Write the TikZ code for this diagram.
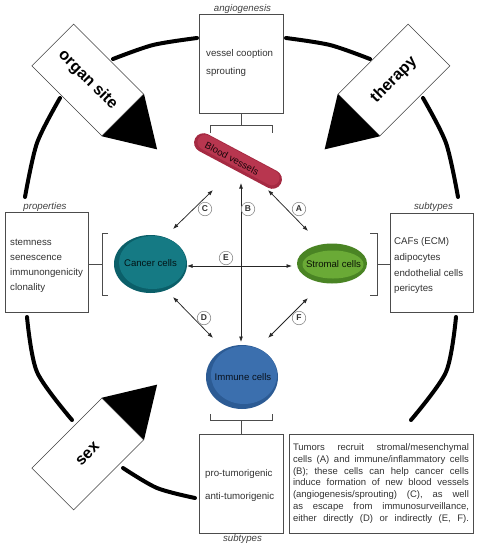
\documentclass[tikz,border=0pt]{standalone}
\usepackage{fontspec}
\setmainfont{Liberation Sans}
\usetikzlibrary{arrows.meta,calc,shapes.geometric}
\definecolor{txt}{HTML}{333333}
\definecolor{cancerO}{HTML}{0B5F69}
\definecolor{cancerI}{HTML}{157A84}
\definecolor{stromaO}{HTML}{4A8424}
\definecolor{stromaI}{HTML}{6AAA36}
\definecolor{immuneO}{HTML}{2C5B94}
\definecolor{immuneI}{HTML}{3B6FAE}
\definecolor{vesselO}{HTML}{A52A42}
\definecolor{vesselI}{HTML}{B8364F}
\begin{document}
\begin{tikzpicture}[x=1pt,y=-1pt,
  ring/.style={line width=4pt, line cap=round, black},
  bigarrow/.style={draw=black!75, line width=0.6pt, fill=white, minimum width=99pt, minimum height=59pt, inner sep=0pt, font=\fontsize{16}{16}\selectfont\bfseries, text=black},
  infobox/.style={draw=black!70, line width=0.6pt, fill=white, inner sep=0pt},
  boxtext/.style={anchor=base west, inner sep=0pt, font=\fontsize{9.7}{11}\selectfont, text=txt},
  toplabel/.style={anchor=base, inner sep=0pt, font=\fontsize{9.7}{11}\selectfont\itshape, text=black!75},
  bracket/.style={draw=black!70, line width=0.7pt},
  conn/.style={draw=black!85, line width=0.75pt, {Latex[length=5.5pt,width=4pt]}-{Latex[length=5.5pt,width=4pt]}},
  letter/.style={circle, draw=black!45, fill=white, line width=0.6pt, minimum size=13.5pt, inner sep=0pt, font=\fontsize{8.5}{8.5}\selectfont\bfseries, text=black!80},
  cellshape/.style={ellipse, inner sep=0pt},
  celltext/.style={inner sep=0pt, font=\fontsize{9.6}{10}\selectfont}
]
\useasboundingbox (0,0) rectangle (479,550);

% outer ring segments
\draw[ring] plot[smooth] coordinates {(113,59) (153,45) (197,38)};
\draw[ring] plot[smooth] coordinates {(286,38) (330,45) (370,59)};
\draw[ring] plot[smooth] coordinates {(423,98) (446,143) (458,197)};
\draw[ring] plot[smooth] coordinates {(456,317) (446,372) (411,420)};
\draw[ring] plot[smooth] coordinates {(123,468) (157,488) (195,498)};
\draw[ring] plot[smooth] coordinates {(27,317) (37,372) (72,420)};
\draw[ring] plot[smooth] coordinates {(60,98) (37,143) (25,197)};

% big factor arrows
\node[bigarrow, rotate=-45] (organ) at (87.75,80) {organ site};
\fill (organ.north east) -- ($(organ.center)!1.97!(organ.east)$) -- (organ.south east) -- cycle;
\node[bigarrow, rotate=45] (therapy) at (394,80) {therapy};
\fill (therapy.north west) -- ($(therapy.center)!1.97!(therapy.west)$) -- (therapy.south west) -- cycle;
\node[bigarrow, rotate=45] (sex) at (87.75,454) {sex};
\fill (sex.north east) -- ($(sex.center)!1.97!(sex.east)$) -- (sex.south east) -- cycle;

% info boxes
\node[infobox, minimum width=84pt, minimum height=99pt] (angio) at (241,63.5) {};
\node[toplabel] at (242.5,11) {angiogenesis};
\node[boxtext] at (206,56) {vessel cooption};
\node[boxtext] at (206,74) {sprouting};

\node[infobox, minimum width=83pt, minimum height=100pt] (props) at (46.5,262) {};
\node[toplabel] at (45,209.5) {properties};
\node[boxtext] at (10,245) {stemness};
\node[boxtext] at (10,260) {senescence};
\node[boxtext] at (10,275) {immunongenicity};
\node[boxtext] at (10,290) {clonality};

\node[infobox, minimum width=83pt, minimum height=99pt] (strsub) at (431.5,262.5) {};
\node[toplabel] at (433.5,209.5) {subtypes};
\node[boxtext] at (394,244) {CAFs (ECM)};
\node[boxtext] at (394,260) {adipocytes};
\node[boxtext] at (394,276) {endothelial cells};
\node[boxtext] at (394,291.5) {pericytes};

\node[infobox, minimum width=84pt, minimum height=99pt] (immsub) at (241,483.5) {};
\node[toplabel] at (242.5,541) {subtypes};
\node[boxtext] at (205,476) {pro-tumorigenic};
\node[boxtext] at (205,499) {anti-tumorigenic};

\node[infobox, minimum width=184pt, minimum height=99pt] (desc) at (381,483.5) {};
\node[inner sep=0pt, align=left, font=\fontsize{9.5}{11.8}\selectfont, text=txt] at (desc.center) {%
\makebox[176pt][s]{Tumors recruit stromal/mesenchymal}\\
\makebox[176pt][s]{cells (A) and immune/inflammatory cells}\\
\makebox[176pt][s]{(B); these cells can help cancer cells}\\
\makebox[176pt][s]{induce formation of new blood vessels}\\
\makebox[176pt][s]{(angiogenesis/sprouting) (C), as well}\\
\makebox[176pt][s]{as escape from immunosurveillance,}\\
\makebox[176pt][s]{either directly (D) or indirectly (E, F).}};

% brackets
\draw[bracket] (angio.south) -- (241,125);
\draw[bracket] (210,133) -- (210,125) -- (272,125) -- (272,133);
\draw[bracket] (props.east |- 0,264) -- (102,264);
\draw[bracket] (108,233) -- (102,233) -- (102,295) -- (108,295);
\draw[bracket] (strsub.west |- 0,264) -- (377,264);
\draw[bracket] (370,233) -- (377,233) -- (377,295) -- (370,295);
\draw[bracket] (immsub.north) -- (241,420);
\draw[bracket] (210,414) -- (210,420) -- (272,420) -- (272,414);

% cells
\node[rotate=-28, rounded corners=9.5pt, fill=vesselO, minimum width=97pt, minimum height=19pt, inner sep=0pt] (vessel) at (238,161) {};
\node[rotate=-28, rounded corners=7.5pt, fill=vesselI, minimum width=91pt, minimum height=15pt, inner sep=0pt] at (238.5,160) {};
\node[rotate=-28, celltext, text=black!85!vesselO] at (232,158.5) {Blood vessels};

\node[cellshape, fill=cancerO, minimum width=73pt, minimum height=58pt] (cancer) at (150.5,264) {};
\node[cellshape, fill=cancerI, minimum width=67pt, minimum height=53pt] at (152.5,262.5) {};
\node[celltext, text=black!80!cancerO] at (150.5,263.5) {Cancer cells};

\node[cellshape, fill=stromaO, minimum width=70pt, minimum height=40pt] (stroma) at (332,263.5) {};
\node[cellshape, fill=stromaI, minimum width=61pt, minimum height=28pt] at (333,264.5) {};
\node[celltext, text=black!85!stromaO] at (333.5,264) {Stromal cells};

\node[cellshape, fill=immuneO, minimum width=72pt, minimum height=64pt] (immune) at (242,377) {};
\node[cellshape, fill=immuneI, minimum width=66pt, minimum height=58pt] at (244,375) {};
\node[celltext, text=black!80!immuneO] at (243,377) {Immune cells};

% connector end points
\coordinate (a1) at (268,190); \coordinate (a2) at (308,231);
\coordinate (b1) at (241,183); \coordinate (b2) at (241,342);
\coordinate (c1) at (173,229); \coordinate (c2) at (213,190);
\coordinate (d1) at (173,297); \coordinate (d2) at (213,338);
\coordinate (e1) at (187,266); \coordinate (e2) at (292,266);
\coordinate (f1) at (308,298); \coordinate (f2) at (268,338);

\draw[conn] (a1) -- (a2);
\draw[conn] (b1) -- (b2);
\draw[conn] (c1) -- (c2);
\draw[conn] (d1) -- (d2);
\draw[conn] (e1) -- (e2);
\draw[conn] (f1) -- (f2);

\node[letter] (la) at (299,209) {A};
\node[letter] (lb) at (248,209) {B};
\node[letter] (lc) at (205,209) {C};
\node[letter] (ld) at (204,318) {D};
\node[letter] (le) at (226,258) {E};
\node[letter] (lf) at (299,318) {F};
\end{tikzpicture}
\end{document}
